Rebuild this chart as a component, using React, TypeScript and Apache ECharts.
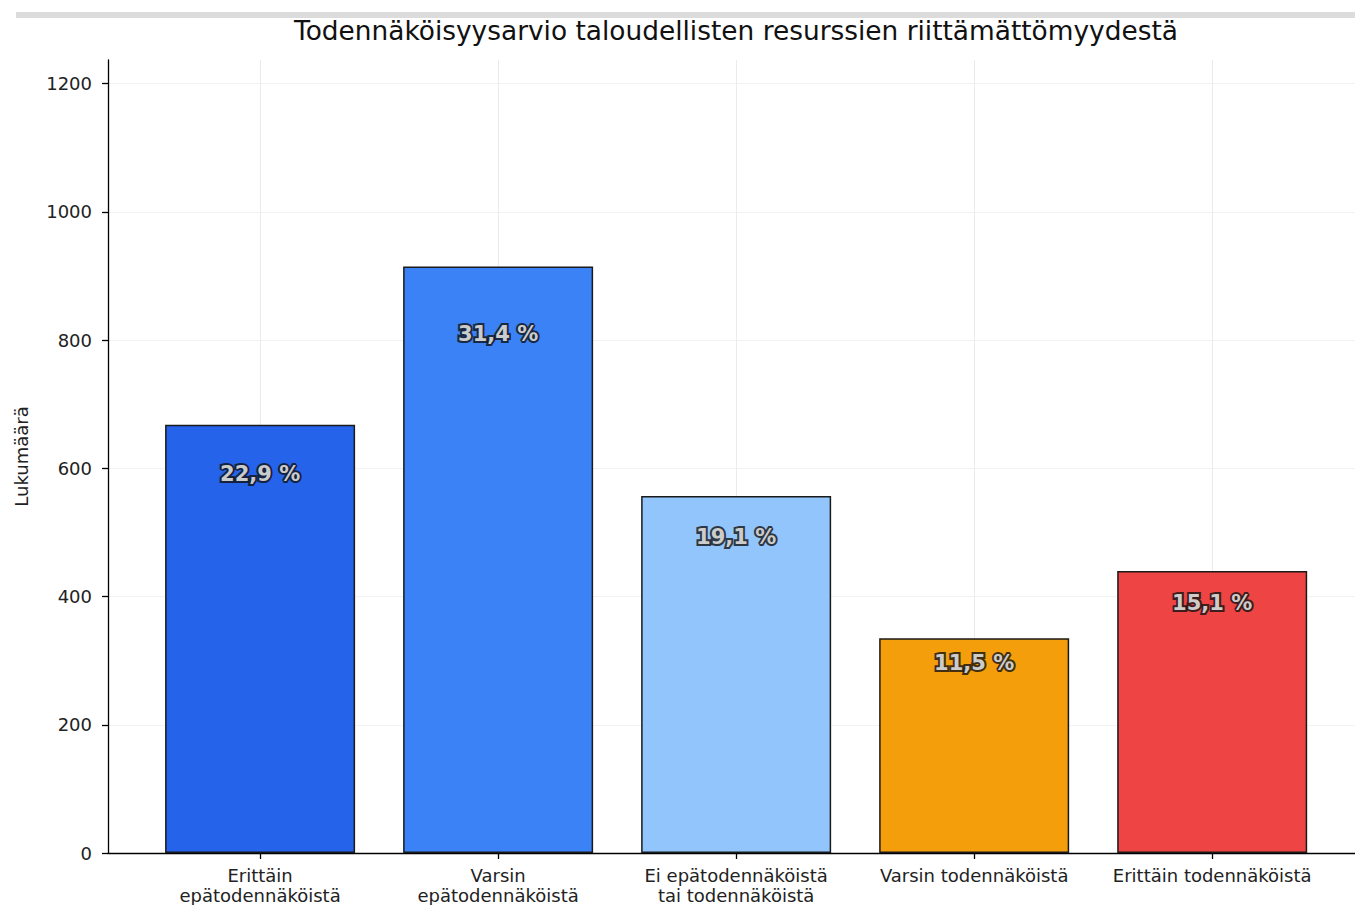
import React, { useEffect, useRef } from "react";
import * as echarts from "echarts";

const categories = [
  "Erittäin\nepätodennäköistä",
  "Varsin\nepätodennäköistä",
  "Ei epätodennäköistä\ntai todennäköistä",
  "Varsin todennäköistä",
  "Erittäin todennäköistä",
];
const counts = [668, 915, 557, 335, 440];
const percentLabels = ["22,9 %", "31,4 %", "19,1 %", "11,5 %", "15,1 %"];
const barColors = ["#2563EB", "#3B82F6", "#93C5FD", "#F59E0B", "#EF4444"];
const yTicks = [0, 200, 400, 600, 800, 1000, 1200];
const xTicks = [0, 1, 2, 3, 4];

const FONT = "DejaVu Sans";

export default function App() {
  const ref = useRef<HTMLDivElement>(null);
  useEffect(() => {
    if (!ref.current) return;
    const chart = echarts.init(ref.current, null, { renderer: "svg" });
    const labelBase = {
      show: true,
      position: "inside",
      formatter: (p: any) => percentLabels[p.dataIndex],
      fontFamily: FONT,
      fontSize: 21,
      fontWeight: "bold",
    };
    const labelPoints = counts.map((v, i) => [i, v * 0.885]);
    chart.setOption({
      animation: false,
      backgroundColor: "#ffffff",
      textStyle: { fontFamily: FONT },
      title: {
        text: "Todennäköisyysarvio taloudellisten resurssien riittämättömyydestä",
        left: 731,
        textAlign: "center",
        top: 12,
        textStyle: { fontFamily: FONT, fontSize: 26.4, fontWeight: "normal", color: "#111" },
      },
      graphic: [
        {
          type: "rect",
          shape: { x: 16, y: 12, width: 1339, height: 6 },
          style: { fill: "#dcdcdc" },
          silent: true,
          z: -1,
        },
      ],
      grid: { left: 108, top: 60, right: 0, bottom: 52 },
      xAxis: {
        type: "value",
        min: -0.639,
        max: 4.6,
        axisLine: { show: true, onZero: false, lineStyle: { color: "#000", width: 1.3 } },
        axisTick: { show: true, customValues: xTicks, length: 6, lineStyle: { color: "#000", width: 1.3 } },
        axisLabel: {
          customValues: xTicks,
          formatter: (v: number) => categories[Math.round(v)] ?? "",
          fontFamily: FONT,
          fontSize: 18,
          color: "#222",
          margin: 12,
          lineHeight: 20,
        },
        splitLine: { show: true, lineStyle: { color: "#ebebeb", width: 1 } },
      },
      yAxis: {
        type: "value",
        min: 0,
        max: 1237,
        name: "Lukumäärä",
        nameLocation: "middle",
        nameGap: 78,
        nameRotate: 90,
        nameTextStyle: { fontFamily: FONT, fontSize: 18, color: "#222" },
        axisLine: { show: true, onZero: false, lineStyle: { color: "#000", width: 1.3 } },
        axisTick: { show: true, customValues: yTicks, length: 6, lineStyle: { color: "#000", width: 1.3 } },
        axisLabel: {
          customValues: yTicks,
          formatter: (v: number) => String(v),
          fontFamily: FONT,
          fontSize: 18,
          color: "#222",
          margin: 16,
        },
        splitLine: { show: true, lineStyle: { color: "#f2f2f2", width: 1 } },
      },
      series: [
        {
          type: "bar",
          barWidth: 190,
          z: 2,
          data: counts.map((v, i) => ({
            value: [i, v],
            itemStyle: { color: barColors[i], borderColor: "#1a1a1a", borderWidth: 1.5 },
          })),
        },
        {
          type: "scatter",
          z: 5,
          symbolSize: 0,
          data: labelPoints,
          label: { ...labelBase, color: "#111", textBorderColor: "#111", textBorderWidth: 4 },
        },
        {
          type: "scatter",
          z: 6,
          symbolSize: 0,
          data: labelPoints,
          label: { ...labelBase, color: "#ffffff", textBorderWidth: 0 },
        },
      ],
    });
    return () => chart.dispose();
  }, []);
  return (
    <div
      ref={ref}
      style={{ position: "fixed", left: 0, top: 0, width: 1355, height: 905, overflow: "hidden" }}
    />
  );
}
